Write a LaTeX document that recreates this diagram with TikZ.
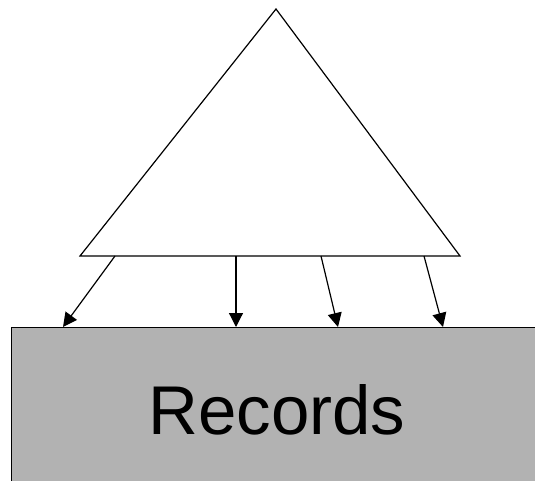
\documentclass[tikz,border=0pt]{standalone}
\usepackage{fontspec}
\setmainfont{Liberation Sans}
\usetikzlibrary{arrows.meta, positioning}

\begin{document}
\begin{tikzpicture}[
          x=1pt, y=-1pt,
          recbox/.style = {draw, fill=black!30, line width=1.2pt,
                           minimum width=534pt, minimum height=168pt,
                           anchor=north west, inner sep=0pt},
          link/.style = {->, line width=1.2pt},
          >={Triangle[length=14pt, width=14pt]}]
        \clip (0,0) rectangle (535,481);
        \node[recbox] (records) at (11,327) {};
        \node[anchor=base, font=\fontsize{69}{80}\selectfont] (title) at (277,434) {Records};
        % index tree
        \coordinate (apex)  at (276,9);
        \coordinate (baseL) at (80,256);
        \coordinate (baseR) at (460,256);
        \draw[line width=1.2pt, line join=miter] (apex) -- (baseL) -- (baseR) -- cycle;
        % pointers into the records
        \coordinate (p1) at (115,256);  \coordinate (q1) at (63,327);
        \coordinate (p2) at (236,256);  \coordinate (q2) at (236,327);
        \coordinate (p3) at (321,256);  \coordinate (q3) at (338,327);
        \coordinate (p4) at (424,256);  \coordinate (q4) at (443,327);
        \foreach \i in {1,...,4}
          \draw[link] (p\i) -- (q\i);
      \end{tikzpicture}
\end{document}
